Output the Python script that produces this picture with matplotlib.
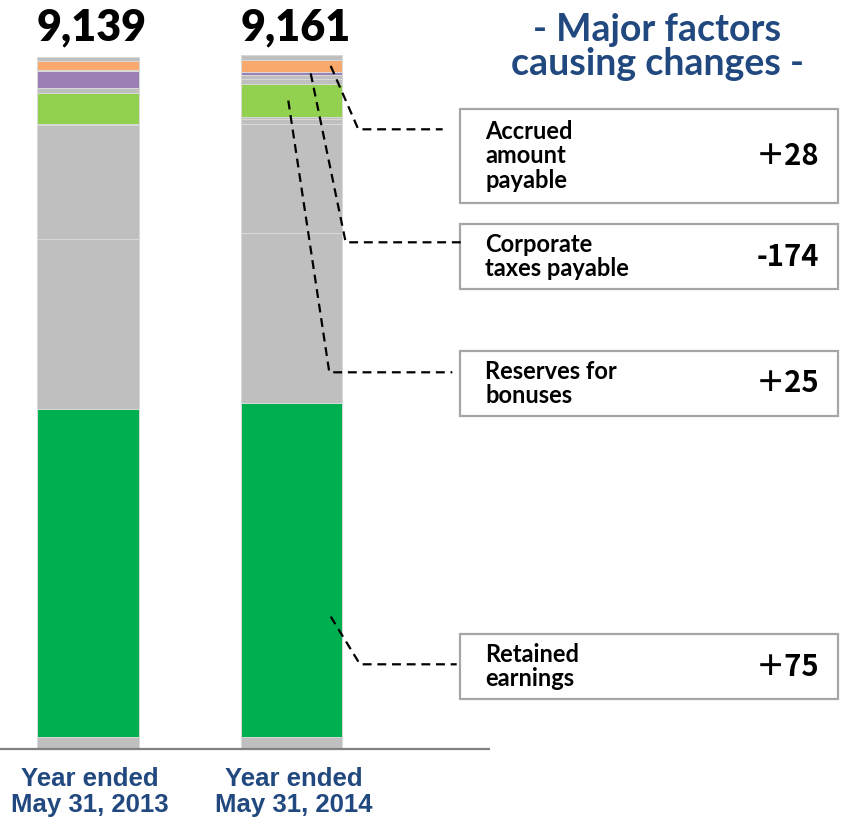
import matplotlib
matplotlib.use("Agg")
import matplotlib.pyplot as plt
from matplotlib.patches import Rectangle

# data (bottom -> top segments of each stacked bar)
years = ["Year ended\nMay 31, 2013", "Year ended\nMay 31, 2014"]
totals = ["9,139", "9,161"]
seg_names = ["other_bottom", "retained", "gray_a", "gray_b", "gray_c", "gray_d",
             "bonuses", "gray_e1", "gray_e2", "taxes", "gray_f", "accrued", "gray_top"]
seg_colors = ["#BFBFBF", "#00B050", "#BFBFBF", "#BFBFBF", "#BFBFBF", "#BFBFBF",
              "#92D050", "#BFBFBF", "#BFBFBF", "#9A80B5", "#BFBFBF", "#F9A96B", "#BFBFBF"]
vals_2013 = [155, 4332, 2241, 1506, 7, 6, 409, 74, 0, 221, 13, 123, 52]
vals_2014 = [158, 4407, 2245, 1440, 66, 26, 434, 66, 53, 47, 0, 151, 68]

factor_labels = ["Accrued\namount\npayable", "Corporate\ntaxes payable",
                 "Reserves for\nbonuses", "Retained\nearnings"]
factor_values = ["＋28", "-174", "＋25", "＋75"]
factor_segs = ["accrued", "taxes", "bonuses", "retained"]

BLUE = "#22497F"

# pixel helpers (figure is 846 x 821 px)
S = 9139 / 692.0
def X(px):
    return (px - 87.9) / 203.6
def Y(py):
    return (748.7 - py) * S

fig = plt.figure(figsize=(8.46, 8.21), dpi=100)
ax = fig.add_axes([0, 0, 1, 1])
ax.set_xlim(X(0), X(846))
ax.set_ylim(Y(821), Y(0))
ax.axis("off")

width = 0.5
for i, vals in enumerate([vals_2013, vals_2014]):
    bottom = 0
    for v, c in zip(vals, seg_colors):
        if v > 0:
            ax.bar(i, v, width=width, bottom=bottom, color=c,
                   edgecolor="#D9D9D9", linewidth=0.7)
        bottom += v
    ax.text(i + 0.02, Y(27), totals[i], ha="center", va="center", fontsize=31,
            fontweight="heavy", family="Lato", color="black")
    ax.text(i + 0.01, Y(792), years[i], ha="center", va="center", fontsize=18.5,
            fontweight="bold", family="Liberation Sans", color=BLUE,
            linespacing=1.15)

ax.plot([X(0), X(490)], [0, 0], color="#808080", lw=1.6, solid_capstyle="butt")

ax.text(X(657), Y(47), "- Major factors\ncausing changes -", ha="center",
        va="center", fontsize=27, fontweight="bold", family="Lato",
        color=BLUE, linespacing=1.0)

# boxes and leader lines
boxes = [(109, 203), (224, 289), (351, 416), (634, 699)]
bend_py = [129.3, 242.3, 372.3, 664.3]
bend_px = [358.3, 345.7, 329.3, 360.0]
end_px = [442.7, 461.7, 452.3, 456.7]
start_px = [330.7, 310.7, 288.3, 330.7]
start_frac = [0.5, 0.5, 0.5, 0.36]

cum = {}
b = 0
for name, v in zip(seg_names, vals_2014):
    cum[name] = (b, v)
    b += v

for k in range(4):
    y0, y1 = boxes[k]
    ax.add_patch(Rectangle((X(460), Y(y1)), X(838) - X(460), Y(y0) - Y(y1),
                           fill=False, edgecolor="#A6A6A6", lw=1.6, zorder=3))
    yc = (Y(y0) + Y(y1)) / 2
    ax.text(X(485), yc, factor_labels[k], ha="left", va="center", fontsize=17,
            fontweight="bold", family="Lato", linespacing=1.1)
    ax.text(X(819), yc, factor_values[k], ha="right", va="center", fontsize=21,
            fontweight="bold", family=["Noto Sans CJK JP", "DejaVu Sans"])
    sb, sv = cum[factor_segs[k]]
    ys = sb + sv * start_frac[k]
    ax.plot([X(start_px[k]), X(bend_px[k]), X(end_px[k])],
            [ys, Y(bend_py[k]), Y(bend_py[k])],
            color="black", lw=1.6, linestyle=(0, (4, 2.6)), zorder=4)

fig.savefig("out.png", dpi=100)
